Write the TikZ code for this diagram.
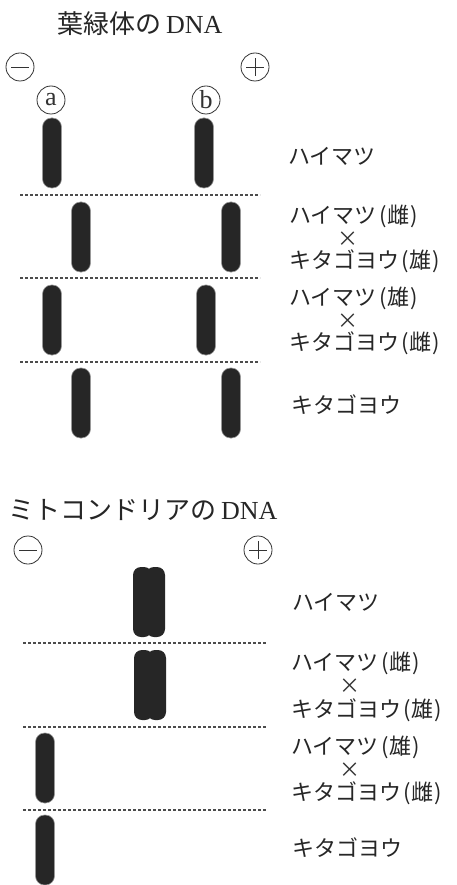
\documentclass[tikz,border=0pt]{standalone}
\usepackage{fontspec}
\setmainfont{Liberation Serif}
\newfontfamily\jp{Noto Sans CJK JP}
\newcommand{\pr}[1]{\hspace{2.5pt}(\hspace{0.8pt}#1\hspace{0.8pt})}
\begin{document}
\begin{tikzpicture}[x=1pt,y=-1pt,
  band/.style={rectangle,rounded corners=9pt,minimum width=19pt,minimum height=70pt,inner sep=0pt,fill=black!85,draw=black!40,line width=0.6pt},
  wband/.style={band,minimum width=19pt,rounded corners=8pt,draw=none},
  sep/.style={dashed,dash pattern=on 3pt off 2pt,line width=1.3pt,draw=black!70},
  lab/.style={anchor=west,inner sep=0pt,text=black!85,font=\jp\fontsize{22}{22}\selectfont},
  crossm/.style={inner sep=0pt,text=black!80,font=\jp\fontsize{21}{21}\selectfont},
  ttl/.style={inner sep=0pt,text=black!85,font=\fontsize{26}{26}\selectfont},
  pole/.style={circle,draw=black!80,line width=0.8pt,minimum size=28pt,inner sep=0pt},
  lane/.style={circle,draw=black!80,line width=0.8pt,minimum size=28pt,inner sep=0pt,text=black!80,font=\fontsize{26}{26}\selectfont}
]
\useasboundingbox (0,0) rectangle (457,885);
\fill[white] (0,0) rectangle (457,885);

% ---------- chloroplast DNA ----------
\node[ttl] (t1) at (140,24) {{\jp 葉緑体の}\,DNA};
\node[pole] (m1) at (20,67) {};
\draw[black!80,line width=0.8pt] ([xshift=-9pt]m1.center) -- ([xshift=9pt]m1.center);
\node[pole] (p1) at (255,67) {};
\draw[black!80,line width=0.8pt] ([xshift=-9pt]p1.center) -- ([xshift=9pt]p1.center)
      ([yshift=-9pt]p1.center) -- ([yshift=9pt]p1.center);
\node[lane] (la) at (51,100) {\raisebox{1pt}{a}};
\node[lane] (lb) at (206,100) {\raisebox{1pt}{b}};

\node[band] (c1a) at (52,153) {};
\node[band] (c1b) at (204,153) {};
\node[band] (c2a) at (81,237) {};
\node[band] (c2b) at (231,237) {};
\node[band] (c3a) at (52,320) {};
\node[band] (c3b) at (206,320) {};
\node[band] (c4a) at (81,403) {};
\node[band] (c4b) at (231,403) {};

\coordinate (d1l) at (20,195); \coordinate (d1r) at (260,195);
\coordinate (d2l) at (20,278); \coordinate (d2r) at (260,278);
\coordinate (d3l) at (20,362); \coordinate (d3r) at (260,362);
\draw[sep] (d1l) -- (d1r);
\draw[sep] (d2l) -- (d2r);
\draw[sep] (d3l) -- (d3r);

\node[lab] (g1) at (288,156) {ハイマツ};
\node[lab] (g2a) at (289,216) {ハイマツ\pr{雌}};
\node[crossm] (g2x) at (348,239) {×};
\node[lab] (g2b) at (289,261) {キタゴヨウ\pr{雄}};
\node[lab] (g3a) at (289,298) {ハイマツ\pr{雄}};
\node[crossm] (g3x) at (348,321) {×};
\node[lab] (g3b) at (289,343) {キタゴヨウ\pr{雌}};
\node[lab] (g4) at (291,405) {キタゴヨウ};

% ---------- mitochondrial DNA ----------
\node[ttl] (t2) at (143,510) {{\jp ミトコンドリアの}\,DNA};
\node[pole] (m2) at (28,550) {};
\draw[black!80,line width=0.8pt] ([xshift=-9pt]m2.center) -- ([xshift=9pt]m2.center);
\node[pole] (p2) at (258,550) {};
\draw[black!80,line width=0.8pt] ([xshift=-9pt]p2.center) -- ([xshift=9pt]p2.center)
      ([yshift=-9pt]p2.center) -- ([yshift=9pt]p2.center);

\node[wband] (k1l) at (142.5,602) {};
\node[wband] (k1r) at (155.5,602) {};
\node[wband] (k2l) at (143.5,685) {};
\node[wband] (k2r) at (156.5,685) {};
\node[band] (k3) at (45,768) {};
\node[band] (k4) at (45,850) {};

\coordinate (e1l) at (23,643); \coordinate (e1r) at (267,643);
\coordinate (e2l) at (23,727); \coordinate (e2r) at (267,727);
\coordinate (e3l) at (23,810); \coordinate (e3r) at (267,810);
\draw[sep] (e1l) -- (e1r);
\draw[sep] (e2l) -- (e2r);
\draw[sep] (e3l) -- (e3r);

\node[lab] (h1) at (292,602) {ハイマツ};
\node[lab] (h2a) at (291,663) {ハイマツ\pr{雌}};
\node[crossm] (h2x) at (350,686) {×};
\node[lab] (h2b) at (291,710) {キタゴヨウ\pr{雄}};
\node[lab] (h3a) at (291,747) {ハイマツ\pr{雄}};
\node[crossm] (h3x) at (350,770) {×};
\node[lab] (h3b) at (291,793) {キタゴヨウ\pr{雌}};
\node[lab] (h4) at (292,848) {キタゴヨウ};
\end{tikzpicture}
\end{document}
